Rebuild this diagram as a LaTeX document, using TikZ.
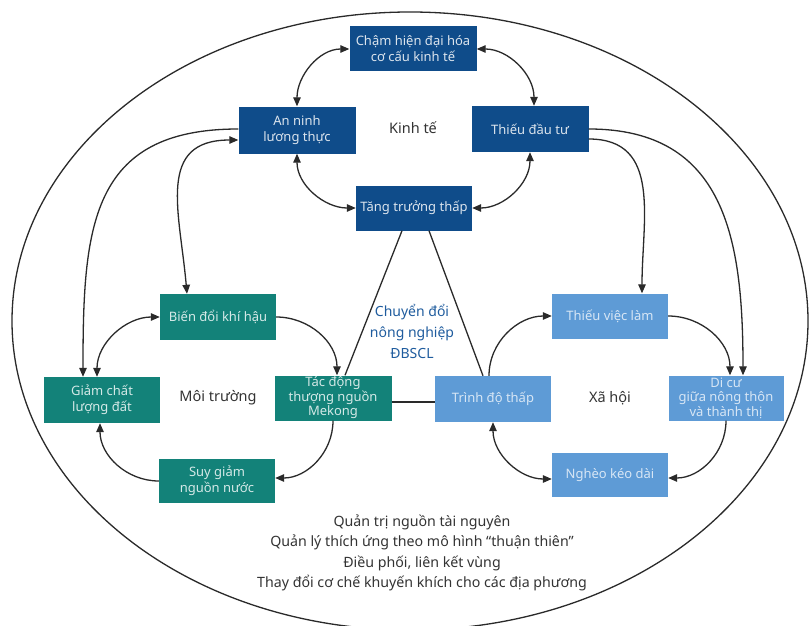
\documentclass[tikz,border=0pt]{standalone}
\usepackage{fontspec}
\setmainfont{Noto Sans}
\usetikzlibrary{arrows.meta,calc}
\definecolor{dblue}{HTML}{0F4C8A}
\definecolor{teal2}{HTML}{138279}
\definecolor{lblue}{HTML}{5E9BD6}
\definecolor{lineg}{HTML}{2A2A2A}
\definecolor{txtg}{HTML}{333333}
\definecolor{cblue}{HTML}{1F5C9E}
\tikzset{
  box/.style={minimum width=116pt,minimum height=45pt,inner sep=0pt,align=center,
    font=\fontsize{13}{16}\selectfont},
  econ/.style={box,fill=dblue,text=white!85!dblue},
  env/.style={box,fill=teal2,text=white!82!teal2},
  soc/.style={box,fill=lblue,text=white!75!lblue},
  conn/.style={draw=lineg,line width=1.3pt},
  tip/.tip={Triangle[length=9pt,width=7.5pt]},
  both/.style={conn,{tip}-{tip}},
  one/.style={conn,-{tip}},
  lbl/.style={text=txtg,font=\fontsize{14.5}{17}\selectfont},
}
\begin{document}
\begin{tikzpicture}[x=1pt,y=1pt]
\useasboundingbox (0,0) rectangle (809,-626);
\clip (0,0) rectangle (809,-626);
\fill[white] (0,0) rectangle (809,-626);
\draw[draw=lineg,line width=1.3pt] (410,-321) ellipse [x radius=398, y radius=309];
% nodes
\node[econ,minimum width=127pt] (cham) at (413,-49) {Chậm hiện đại hóa\\cơ cấu kinh tế};
\node[econ,minimum width=117pt,minimum height=47pt] (an) at (297,-130) {An ninh\\lương thực};
\node[econ,minimum width=117pt,minimum height=46pt] (dau) at (530,-129) {Thiếu đầu tư};
\node[econ] (tang) at (414,-208) {Tăng trưởng thấp};
\node[env,minimum height=46pt] (bien) at (218,-317) {Biến đổi khí hậu};
\node[env,minimum height=46pt] (giam) at (102,-400) {Giảm chất\\lượng đất};
\node[env,minimum width=117pt,font=\fontsize{13}{14.5}\selectfont] (tac) at (333,-398) {Tác động\\thượng nguồn\\Mekong};
\node[env,minimum height=44pt] (suy) at (217,-481) {Suy giảm\\nguồn nước};
\node[soc] (viec) at (610,-316) {Thiếu việc làm};
\node[soc,minimum height=46pt] (trinh) at (493,-399) {Trình độ thấp};
\node[soc,minimum width=115pt,font=\fontsize{13}{14.5}\selectfont] (dicu) at (726,-398) {Di cư\\giữa nông thôn\\và thành thị};
\node[soc,minimum height=44pt] (ngheo) at (610,-475) {Nghèo kéo dài};
% labels
\node[lbl] (kt) at (413,-128) {Kinh tế};
\node[lbl] (mt) at (218,-398) {Môi trường};
\node[lbl] (xh) at (610,-398) {Xã hội};
\node[text=cblue,align=center,font=\fontsize{14}{21}\selectfont] (cd) at (412,-331) {Chuyển đổi\\nông nghiệp\\ĐBSCL};
\node[text=txtg,align=center,font=\fontsize{14.2}{20.3}\selectfont] (bt) at (422,-553)
  {Quản trị nguồn tài nguyên\\Quản lý thích ứng theo mô hình “thuận thiên”\\Điều phối, liên kết vùng\\Thay đổi cơ chế khuyến khích cho các địa phương};
% economic loop
\draw[both] (an.north) to[out=90,in=180] (cham.west);
\draw[both] (cham.east) to[out=0,in=90] ($(dau.north)+(4,0)$);
\draw[both] (an.south) to[out=-90,in=180] (tang.west);
\draw[both] (dau.south) to[out=-90,in=0] (tang.east);
% links from economy
\draw[both] ($(an.west)+(0,-10)$) to[out=180,in=95,looseness=1.3] ($(bien.north)+(-31,0)$);
\draw[one] ($(an.west)+(0,1)$) to[out=180,in=90,looseness=1.3] ($(giam.north)+(-19,0)$);
\draw[one] ($(dau.east)+(0,-10)$) to[out=0,in=90,looseness=1.15] ($(viec.north)+(32,0)$);
\draw[one] ($(dau.east)+(0,0)$) to[out=0,in=90,looseness=1.2] ($(dicu.north)+(17,0)$);
% environment loop
\draw[both] (bien.west) to[out=180,in=90] ($(giam.north)+(-5,0)$);
\draw[one] (bien.east) to[out=0,in=90] ($(tac.north)+(4,0)$);
\draw[one] (tac.south) to[out=-90,in=0] ($(suy.east)+(0,3)$);
\draw[one] (suy.west) to[out=180,in=-90] ($(giam.south)+(-2,0)$);
% social loop
\draw[one] (viec.east) to[out=0,in=90] ($(dicu.north)+(4,0)$);
\draw[one] (dicu.south) to[out=-90,in=0] ($(ngheo.east)+(0,-3)$);
\draw[both] (trinh.south) to[out=-90,in=180] ($(ngheo.west)+(0,-4)$);
\draw[one] ($(trinh.north)+(-4,0)$) to[out=90,in=180] (viec.west);
% triangle
\draw[conn] ($(tang.south)+(-12,0)$) -- ($(tac.north)+(12,0)$);
\draw[conn] ($(tang.south)+(15,0)$) -- ($(trinh.north)+(-10,0)$);
\draw[conn] ($(tac.east)+(0,-4)$) -- ($(trinh.west)+(0,-3)$);
\end{tikzpicture}
\end{document}
